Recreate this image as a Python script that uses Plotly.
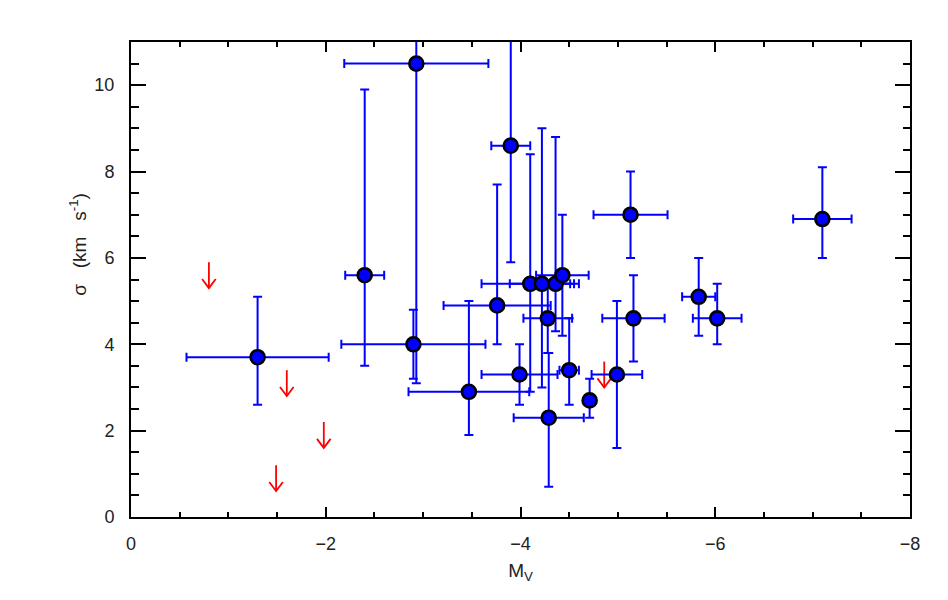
import plotly.graph_objects as go

# ---- Data: detections (M_V, sigma) with error bars ----
mv = [-1.30, -2.40, -2.90, -2.93, -3.47, -3.76, -3.90, -3.99, -4.10, -4.22, -4.36,
      -4.43, -4.28, -4.29, -4.50, -4.71, -4.99, -5.16, -5.13, -5.83, -6.02, -7.10]
sigma = [3.7, 5.6, 4.0, 10.5, 2.9, 4.9, 8.6, 3.3, 5.4, 5.4, 5.4,
         5.6, 4.6, 2.3, 3.4, 2.7, 3.3, 4.6, 7.0, 5.1, 4.6, 6.9]
mv_err = [0.73, 0.20, 0.74, 0.74, 0.62, 0.55, 0.20, 0.39, 0.50, 0.33, 0.15,
          0.27, 0.25, 0.36, 0.10, 0.0, 0.26, 0.32, 0.38, 0.17, 0.25, 0.30]
sigma_err_hi = [1.4, 4.3, 0.8, 7.4, 2.1, 2.8, 2.7, 0.7, 3.0, 3.6, 3.4,
                1.4, 0.8, 1.5, 1.2, 0.5, 1.7, 1.0, 1.0, 0.9, 0.8, 1.2]
sigma_err_lo = [1.1, 2.1, 0.8, 7.4, 1.0, 0.9, 2.7, 0.7, 2.5, 2.4, 1.1,
                1.4, 0.8, 1.6, 0.8, 0.4, 1.7, 1.0, 1.0, 0.9, 0.6, 0.9]

# ---- Data: upper limits (red arrows) ----
lim_mv = [-0.80, -1.60, -1.98, -1.49, -4.86]
lim_sigma = [5.9, 3.4, 2.2, 1.2, 3.6]

# ---- Tick labels ----
x_ticks = [0, -2, -4, -6, -8]
y_ticks = [0, 2, 4, 6, 8, 10]

# arrow style (data units)
ARROW_LEN = 0.6
HEAD_DX = 0.07
HEAD_DY = 0.21

FONT = "Liberation Sans"
TXT = "#222222"

ax_x, ax_y = [], []
for x0, y0 in zip(lim_mv, lim_sigma):
    tip = y0 - ARROW_LEN
    ax_x += [x0, x0, None, x0 + HEAD_DX, x0, x0 - HEAD_DX, None]
    ax_y += [y0, tip, None, tip + HEAD_DY, tip, tip + HEAD_DY, None]

fig = go.Figure()

fig.add_trace(go.Scatter(
    x=ax_x, y=ax_y, mode="lines",
    line=dict(color="#ff0000", width=1.8),
    hoverinfo="skip", showlegend=False,
))

fig.add_trace(go.Scatter(
    x=mv, y=sigma, mode="markers",
    marker=dict(size=14, color="#0000ff", line=dict(color="black", width=2.6)),
    error_x=dict(type="data", array=mv_err, symmetric=True,
                 color="#0000ff", thickness=2, width=4.5),
    error_y=dict(type="data", array=sigma_err_hi, arrayminus=sigma_err_lo,
                 symmetric=False, color="#0000ff", thickness=2, width=4.5),
    showlegend=False,
))

fig.update_layout(
    width=948, height=600,
    margin=dict(l=131, r=38, t=42, b=83),
    paper_bgcolor="white", plot_bgcolor="white",
    font=dict(family=FONT, size=18, color=TXT),
    xaxis=dict(
        range=[0, -8], tickvals=x_ticks,
        ticks="inside", ticklen=10, tickwidth=1.5, tickcolor="black",
        minor=dict(dtick=0.5, ticks="inside", ticklen=5, tickwidth=1.5,
                   tickcolor="black", showgrid=False),
        showline=True, linewidth=2, linecolor="black", mirror="ticks",
        showgrid=False, zeroline=False,
        ticklabelstandoff=9,
        title=dict(text="M<sub>V</sub>", font=dict(size=19, color=TXT), standoff=11),
    ),
    yaxis=dict(
        range=[0, 11], tickvals=y_ticks,
        ticks="inside", ticklen=15, tickwidth=1.5, tickcolor="black",
        minor=dict(dtick=0.5, ticks="inside", ticklen=7.5, tickwidth=1.5,
                   tickcolor="black", showgrid=False),
        showline=True, linewidth=2, linecolor="black", mirror="ticks",
        showgrid=False, zeroline=False,
        ticklabelstandoff=11,
    ),
    annotations=[dict(
        text="σ   (km   s<sup>-1</sup>)", textangle=-90,
        xref="paper", yref="paper", x=-0.068, y=0.573,
        xanchor="center", yanchor="middle", showarrow=False,
        font=dict(size=19, color=TXT),
    )],
)

fig.write_html("out.html")
